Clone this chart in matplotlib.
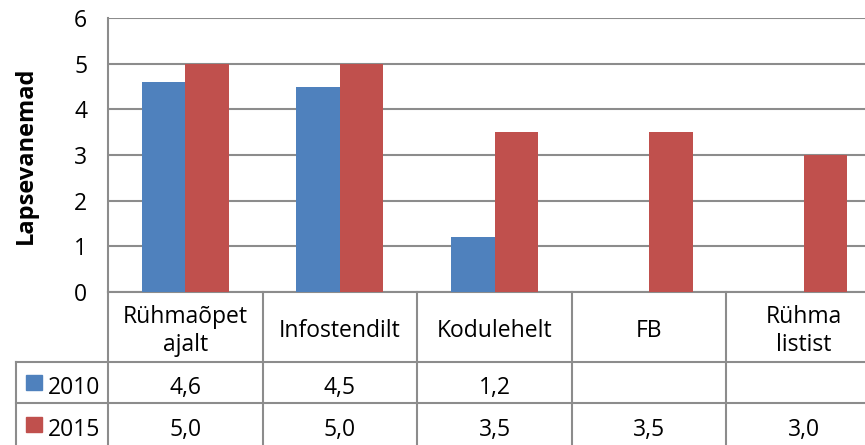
import matplotlib
matplotlib.use("Agg")
import matplotlib.pyplot as plt
import numpy as np

plt.rcParams['font.family'] = ['Open Sans', 'DejaVu Sans']

categories = ["Rühmaõpet\najalt", "Infostendilt", "Kodulehelt", "FB", "Rühma\nlistist"]
years = ["2010", "2015"]
vals_2010 = [4.6, 4.5, 1.2, np.nan, np.nan]
vals_2015 = [5.0, 5.0, 3.5, 3.5, 3.0]
yticks = [0, 1, 2, 3, 4, 5, 6]

blue = '#4F81BD'
red = '#C0504D'
grid_c = '#8C8C8C'
fs = 16.5

W, H = 865, 445
fig = plt.figure(figsize=(W/100, H/100), dpi=100)

# plot area in pixels (right edge runs off the picture)
x0, x1, ytop, ybot = 108, 881, 18, 292
catw = (x1 - x0) / len(categories)

ax = fig.add_axes([x0/W, (H-ybot)/H, (x1-x0)/W, (ybot-ytop)/H])
n = len(categories)
xc = np.arange(n) + 0.5
bw = 43.5 / catw
ax.bar(xc - bw/2, vals_2010, bw, color=blue, edgecolor='none', zorder=3)
ax.bar(xc + bw/2, vals_2015, bw, color=red, edgecolor='none', zorder=3)
ax.set_xlim(0, n)
ax.set_ylim(0, 6)
ax.set_yticks(yticks)
ax.set_yticklabels([str(t) for t in yticks], fontsize=fs)
ax.tick_params(axis='y', length=0, pad=15)
ax.set_xticks([])
ax.grid(axis='y', color=grid_c, linewidth=1.5, zorder=0)
for s in ['top', 'right']:
    ax.spines[s].set_visible(False)
for s in ['left', 'bottom']:
    ax.spines[s].set_color(grid_c)
    ax.spines[s].set_linewidth(1.5)
ax.set_ylabel('Lapsevanemad', fontsize=17, fontweight='bold')
ax.yaxis.set_label_coords(-(x0-38)/(x1-x0), 0.5)

# data table underneath
lx = 16
axt = fig.add_axes([lx/W, 0, (x1-lx)/W, (H-ybot)/H])
axt.set_xlim(-(x0-lx)/catw, n)
axt.set_ylim(H, ybot)
axt.axis('off')

def px(x):
    return (x - x0) / catw

lw = 1.5
for i in range(n + 1):
    axt.plot([i, i], [ybot, H], color=grid_c, lw=lw, clip_on=False)
axt.plot([px(lx), px(lx)], [362, H], color=grid_c, lw=lw, clip_on=False)
for yy in [362, 403]:
    axt.plot([px(lx), n], [yy, yy], color=grid_c, lw=lw, clip_on=False)

for i, c in enumerate(categories):
    lines = c.split('\n')
    m = len(lines)
    for k, ln in enumerate(lines):
        base = 337 + (k - (m - 1) / 2) * 28
        axt.text(i + 0.5, base, ln, ha='center', va='baseline', fontsize=fs)

def fmt(v):
    return '' if np.isnan(v) else ('%.1f' % v).replace('.', ',')

rows_base = [394, 436]
for yb, year, vals, col in zip(rows_base, years, [vals_2010, vals_2015], [blue, red]):
    axt.add_patch(plt.Rectangle((px(26), yb - 19), 16/catw, 15, color=col, clip_on=False))
    axt.text(px(48), yb, year, ha='left', va='baseline', fontsize=fs)
    for i, v in enumerate(vals):
        axt.text(i + 0.5, yb, fmt(v), ha='center', va='baseline', fontsize=fs)

fig.savefig('out.png', dpi=100)
